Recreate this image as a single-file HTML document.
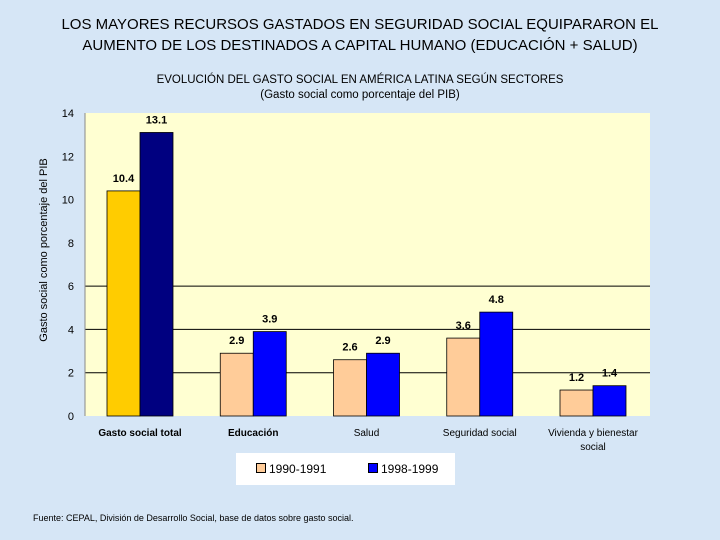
<!DOCTYPE html>
<html><head><meta charset="utf-8"><style>
body{margin:0;width:720px;height:540px;background:#d6e6f6;font-family:"Liberation Sans",sans-serif;overflow:hidden;position:relative}
.t{position:absolute;left:0;width:720px;text-align:center;color:#000}
</style></head><body>
<div class="t" style="top:14px;font-size:15px;line-height:21px">LOS MAYORES RECURSOS GASTADOS EN SEGURIDAD SOCIAL EQUIPARARON EL<br>AUMENTO DE LOS DESTINADOS A CAPITAL HUMANO (EDUCACIÓN + SALUD)</div>
<div class="t" style="top:73px;font-size:11.5px;line-height:15px;left:0">EVOLUCIÓN DEL GASTO SOCIAL EN AMÉRICA LATINA SEGÚN SECTORES<br>(Gasto social como porcentaje del PIB)</div>
<svg id="c" width="720" height="540" style="position:absolute;left:0;top:0" font-family="Liberation Sans, sans-serif"></svg>
<div style="position:absolute;left:236px;top:453px;width:219px;height:32px;background:#fff;font-size:12px">
<span style="position:absolute;left:20px;top:9px"><span style="display:inline-block;width:8px;height:8px;background:#ffcc99;border:1px solid #000;margin-right:3px"></span>1990-1991</span>
<span style="position:absolute;left:132px;top:9px"><span style="display:inline-block;width:8px;height:8px;background:#0000ff;border:1px solid #000;margin-right:3px"></span>1998-1999</span>
</div>
<div style="position:absolute;left:33px;top:513px;font-size:9px">Fuente: CEPAL, División de Desarrollo Social, base de datos sobre gasto social.</div>
<script>
const categories=["Gasto social total","Educación","Salud","Seguridad social","Vivienda y bienestar social"];
const s1990=[10.4,2.9,2.6,3.6,1.2];
const s1998=[13.1,3.9,2.9,4.8,1.4];
const yTicks=[0,2,4,6,8,10,12,14];
const ns="http://www.w3.org/2000/svg";
const svg=document.getElementById('c');
const L=85,R=650,T=113,B=416,yMax=14;
const y=v=>B-(v/yMax)*(B-T);
const cx=i=>140+113.25*i;
function mk(tag,attrs,txt){const e=document.createElementNS(ns,tag);for(const k in attrs)e.setAttribute(k,attrs[k]);if(txt!==undefined)e.textContent=txt;svg.appendChild(e);return e;}
let e=mk('rect',{x:L,y:T,width:R-L,height:B-T,fill:'#ffffd2'});


yTicks.forEach(v=>{
 if(v>0&&v<=6){let g=mk('line',{x1:L,x2:R,y1:y(v),y2:y(v),stroke:'#000','stroke-width':1});
 
 }
 let t=mk('text',{x:74,y:y(v)+4,'font-size':11,'text-anchor':'end'},String(v));
 
 
});
const W=33;
categories.forEach((c,i)=>{
 const x0=cx(i);
 const col1=i===0?'#ffcc00':'#ffcc99', col2=i===0?'#000080':'#0000ff';
 let b=mk('rect',{x:x0-W,y:y(s1990[i]),width:W,height:B-y(s1990[i]),fill:col1,stroke:'#000','stroke-width':0.8});
 
 
 b=mk('rect',{x:x0,y:y(s1998[i]),width:W,height:B-y(s1998[i]),fill:col2,stroke:'#000','stroke-width':0.8});
 
 
 let l=mk('text',{x:x0-W/2,y:y(s1990[i])-9,'font-size':11,'font-weight':'bold','text-anchor':'middle'},s1990[i].toFixed(1));
 
 
 l=mk('text',{x:x0+W/2,y:y(s1998[i])-9,'font-size':11,'font-weight':'bold','text-anchor':'middle'},s1998[i].toFixed(1));
 
 
 const parts=i===4?["Vivienda y bienestar","social"]:[c];
 parts.forEach((p,k)=>{let t=mk('text',{x:x0,y:436+k*14,'font-size':10,'font-weight':i<2?'bold':'normal','text-anchor':'middle'},p);
 
 });
});
let a=mk('line',{x1:L,x2:L,y1:T,y2:B,stroke:'#888'});


let yl=mk('text',{x:0,y:0,'font-size':11,'text-anchor':'middle',transform:'translate(47,250) rotate(-90)'},'Gasto social como porcentaje del PIB');


</script>
</body></html>
